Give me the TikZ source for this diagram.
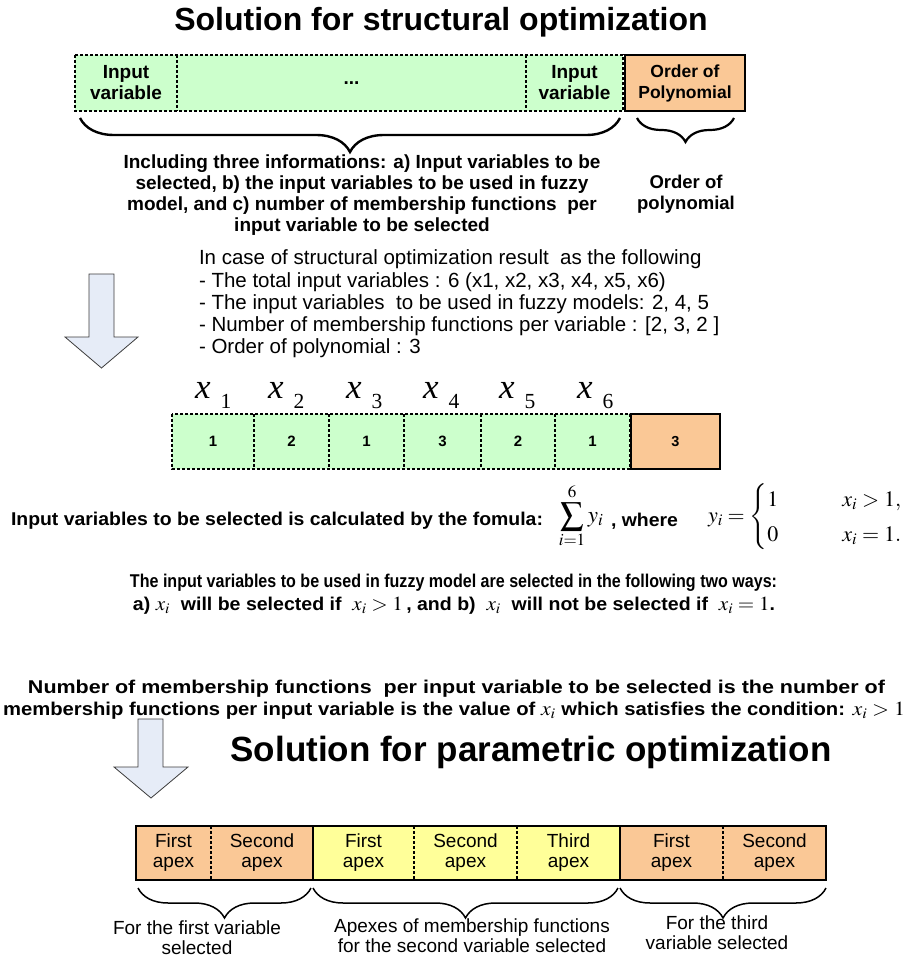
\documentclass[tikz,border=0pt]{standalone}
\usepackage{mathptmx}
\usepackage[no-math]{fontspec}
\usepackage{graphicx}
\setmainfont{Liberation Sans}
\newfontfamily\serif{Liberation Serif}
\usetikzlibrary{decorations.pathreplacing}

\definecolor{cellgreen}{HTML}{CCFFCC}
\definecolor{cellorange}{HTML}{FAC896}
\definecolor{cellyellow}{HTML}{FFFF99}
\definecolor{arrowfill}{HTML}{E6ECF7}
\definecolor{arrowline}{HTML}{3C3C3C}

% math set in Times at a given size
\newcommand{\mx}[1]{{\fontsize{20}{20}\selectfont$#1$}}
% a line of text squeezed to a given width
\newcommand{\fitline}[2]{\resizebox{#1}{\height}{#2}}
% variable label x with a lowered index
\newcommand{\xlab}[1]{{\serif\itshape\fontsize{35}{35}\selectfont x}\hspace{10pt}\raisebox{-10pt}{\serif\fontsize{21.5}{22}\selectfont #1}}

\tikzset{
  base/.style={inner sep=0pt, outer sep=0pt, align=center},
  gcell/.style={base, fill=cellgreen},
  ocell/.style={base, fill=cellorange},
  ycell/.style={base, fill=cellyellow},
  dashline/.style={line width=1.6pt, dash pattern=on 3.2pt off 1.8pt},
  frameline/.style={line width=2pt},
  bigbrace/.style={decorate, decoration={brace, mirror, amplitude=34pt}, line width=2.4pt},
  smallbrace/.style={decorate, decoration={brace, mirror, amplitude=24pt}, line width=2.2pt},
  lowbrace/.style={decorate, decoration={brace, mirror, amplitude=30pt}, line width=1.5pt},
  blockarrow/.style={fill=arrowfill, draw=arrowline, line width=0.8pt, line join=miter},
  boldtext/.style={base, font=\bfseries\fontsize{19}{21}\selectfont},
  headtext/.style={base, font=\bfseries\fontsize{19}{21}\selectfont},
  plaintext/.style={base, font=\fontsize{20.5}{22.3}\selectfont},
  condtext/.style={base, font=\bfseries\fontsize{18.5}{20}\selectfont},
  celltext/.style={font=\fontsize{19}{20}\selectfont},
}

\begin{document}
\begin{tikzpicture}[x=1pt, y=-1pt]
\useasboundingbox (0,0) rectangle (909,955);

% ---------- structural optimization ----------
\node[base, font=\bfseries\fontsize{32}{36}\selectfont] (title1) at (441,22) {Solution for structural optimization};

\node[gcell, minimum width=102, minimum height=56, headtext] (t1) at (126,83) {Input\\variable};
\node[gcell, minimum width=349, minimum height=56, headtext] (t2) at (351.5,83) {...};
\node[gcell, minimum width=97, minimum height=56, headtext] (t3) at (574.5,83) {Input\\variable};
\node[ocell, minimum width=120, minimum height=56, font=\bfseries\fontsize{17.5}{21}\selectfont] (t4) at (685,83) {Order of\\Polynomial};
\draw[dashline] (t1.north west) rectangle (t3.south east);
\draw[dashline] (t1.north east) -- (t1.south east);
\draw[dashline] (t2.north east) -- (t2.south east);
\draw[frameline] (t4.north west) rectangle (t4.south east);

\draw[bigbrace] ([shift={(5,7)}]t1.south west) -- ([shift={(-3,7)}]t3.south east);
\draw[smallbrace] ([shift={(12,7)}]t4.south west) -- ([shift={(-11,7)}]t4.south east);

\node[boldtext] (info) at (362,195) {Including three informations: a) Input variables to be\\selected, b) the input variables to be used in fuzzy\\model, and c) number of membership functions \ per\\input variable to be selected};
\node[boldtext, font=\bfseries\fontsize{18.5}{21}\selectfont] (order) at (686,194) {Order of\\polynomial};

% arrow down to the example
\draw[blockarrow] (89,274) -- (114,274) -- (114,337) -- (138,337) -- (101.5,368) -- (65,337) -- (89,337) -- cycle;

\node[plaintext, anchor=west, align=left] (case) at (199,304) {In case of structural optimization result \ as the following\\
- The total input variables : 6 (x1, x2, x3, x4, x5, x6)\\
- The input variables \ to be used in fuzzy models: 2, 4, 5\\
- Number of membership functions per variable : [2, 3, 2 ]\\
- Order of polynomial : 3};

% example string
\foreach \nm/\cx/\w/\v in {m1/213/82/1, m2/291.5/75/2, m3/366.5/75/1, m4/442.5/77/3, m5/518/74/2, m6/592.5/75/1}
  \node[gcell, minimum width=\w, minimum height=55, font=\bfseries\fontsize{15}{16}\selectfont] (\nm) at (\cx,441.5) {\v};
\node[ocell, minimum width=89, minimum height=55, font=\bfseries\fontsize{14.5}{16}\selectfont] (m7) at (675.5,441.5) {3};
\draw[dashline] (m1.north west) rectangle (m6.south east);
\foreach \nm in {m1,m2,m3,m4,m5}
  \draw[dashline] (\nm.north east) -- (\nm.south east);
\draw[frameline] (m7.north west) rectangle (m7.south east);

\foreach \i/\lx in {1/195, 2/268, 3/346, 4/423, 5/499, 6/577}
  \node[base, anchor=base west] (lab\i) at (\lx,398) {\xlab{\i}};

% selection rules
\node[condtext, anchor=west] (ftext) at (11,521) {\fitline{532pt}{Input variables to be selected is calculated by the fomula:}};
\node[base, font=\fontsize{23}{25}\selectfont] (fsum) at (581,516) {$\displaystyle\sum_{i=1}^{6} y_i$};
\node[condtext, anchor=west] (fwhere) at (611,521) {\fitline{67pt}{, where}};
\node[base, anchor=west, font=\fontsize{22}{24}\selectfont] (fcase) at (708,517) {$y_i=\left\{\renewcommand{\arraystretch}{1.45}\begin{array}{@{}l@{\hspace{64pt}}l@{}}1 & x_i>1,\\ 0 & x_i=1.\end{array}\right.$};

\node[condtext] (ways1) at (453.5,583) {\fitline{647pt}{The input variables to be used in fuzzy model are selected in the following two ways:}};
\node[condtext] (ways2) at (454,606) {\fitline{642pt}{a) \mx{x_i} \ will be selected if \ \mx{x_i>1}\,, and b) \ \mx{x_i} \ will not be selected if \ \mx{x_i=1}.}};

\node[condtext] (num1) at (456.5,689) {\fitline{857pt}{Number of membership functions \ per input variable to be selected is the number of}};
\node[condtext] (num2) at (454,711) {\fitline{902pt}{membership functions per input variable is the value of \mx{x_i} which satisfies the condition: \mx{x_i>1}}};

% arrow down to the parametric part
\draw[blockarrow] (138,719) -- (163,719) -- (163,767) -- (188,767) -- (151,798) -- (114,767) -- (138,767) -- cycle;

% ---------- parametric optimization ----------
\node[base, font=\bfseries\fontsize{35}{38}\selectfont] (title2) at (531,752) {Solution for parametric optimization};

\node[ocell, minimum width=75, minimum height=54, celltext] (b1) at (173.5,853) {First\\apex};
\node[ocell, minimum width=102, minimum height=54, celltext] (b2) at (262,853) {Second\\apex};
\node[ycell, minimum width=101, minimum height=54, celltext] (b3) at (363.5,853) {First\\apex};
\node[ycell, minimum width=103, minimum height=54, celltext] (b4) at (465.5,853) {Second\\apex};
\node[ycell, minimum width=103, minimum height=54, celltext] (b5) at (568.5,853) {Third\\apex};
\node[ocell, minimum width=103, minimum height=54, celltext] (b6) at (671.5,853) {First\\apex};
\node[ocell, minimum width=103, minimum height=54, celltext] (b7) at (774.5,853) {Second\\apex};
\draw[dashline] (b1.north east) -- (b1.south east);
\draw[dashline] (b3.north east) -- (b3.south east);
\draw[dashline] (b4.north east) -- (b4.south east);
\draw[dashline] (b6.north east) -- (b6.south east);
\draw[frameline] (b1.north west) rectangle (b2.south east);
\draw[frameline] (b3.north west) rectangle (b5.south east);
\draw[frameline] (b6.north west) rectangle (b7.south east);

\draw[lowbrace] ([shift={(2,8)}]b1.south west) -- ([shift={(-2,8)}]b2.south east);
\draw[lowbrace] ([shift={(0,8)}]b3.south west) -- ([shift={(-2,8)}]b5.south east);
\draw[lowbrace] ([shift={(0,8)}]b6.south west) -- ([shift={(0,8)}]b7.south east);

\node[base, celltext] (g1) at (197,938) {For the first variable\\selected};
\node[base, celltext] (g2) at (472,936) {Apexes of membership functions\\for the second variable selected};
\node[base, celltext] (g3) at (717,933) {For the third\\variable selected};
\end{tikzpicture}
\end{document}
